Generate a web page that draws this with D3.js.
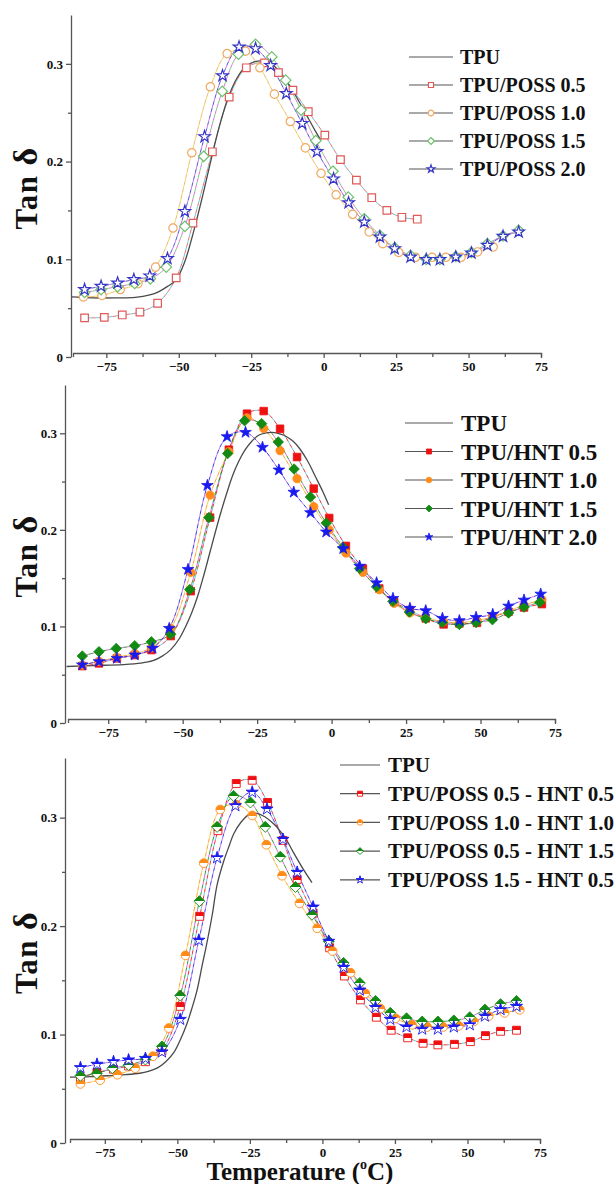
<!DOCTYPE html>
<html><head><meta charset="utf-8">
<script src="https://cdn.jsdelivr.net/npm/d3@7"></script>
<style>
body{margin:0;background:#fff}
svg{display:block}
text{font-family:"Liberation Serif","Times New Roman",serif;font-weight:bold;fill:#111}
</style>
</head><body>
<svg id="c" width="616" height="1184"></svg>
<script>
// ---------- DATA ----------
const xTicks = [-75, -50, -25, 0, 25, 50, 75];
const xMinorTicks = [-62.5, -37.5, -12.5, 12.5, 37.5, 62.5];
const yTicks = [0, 0.1, 0.2, 0.3];
const yMinorTicks = [0.05, 0.15, 0.25];
const yTitle = "Tan";
const yTitleGreek = "δ";
const xTitleMain = "Temperature (";
const xTitleSup = "o";
const xTitleEnd = "C)";

const p1Labels = ["TPU", "TPU/POSS 0.5", "TPU/POSS 1.0", "TPU/POSS 1.5", "TPU/POSS 2.0"];
const p2Labels = ["TPU", "TPU/HNT 0.5", "TPU/HNT 1.0", "TPU/HNT 1.5", "TPU/HNT 2.0"];
const p3Labels = ["TPU", "TPU/POSS 0.5 - HNT 0.5", "TPU/POSS 1.0 - HNT 1.0", "TPU/POSS 0.5 - HNT 1.5", "TPU/POSS 1.5 - HNT 0.5"];

// Panel 1 (POSS)
const p1TPU = [[-87,0.0615],[-80,0.0605],[-72,0.0605],[-65,0.061],[-60,0.0635],[-57,0.0667],[-54,0.072],[-51,0.0786],[-48,0.097],[-45,0.127],[-42,0.162],[-39,0.2],[-36,0.236],[-33,0.265],[-30,0.285],[-27,0.297],[-24,0.302],[-21,0.303],[-18,0.3],[-15,0.291],[-12,0.279],[-9,0.264],[-6,0.248],[-3,0.232],[-1,0.222]];
const p1P05 = [[-82.5,0.040],[-75.7,0.0405],[-69.5,0.043],[-63.4,0.046],[-57.3,0.055],[-50.9,0.081],[-45.1,0.137],[-38.4,0.21],[-32.6,0.266],[-26.7,0.296],[-20.4,0.301],[-15.6,0.291],[-10.6,0.273],[-5.3,0.251],[0.4,0.227],[5.8,0.202],[11.3,0.181],[16.6,0.163],[21.8,0.150],[27.0,0.143],[32.3,0.141]];
const p1P10 = [[-82.9,0.0615],[-76.5,0.063],[-70.2,0.069],[-64.1,0.075],[-58.0,0.092],[-52.0,0.132],[-45.5,0.209],[-39.1,0.2765],[-33.3,0.3105],[-27.0,0.313],[-22.0,0.296],[-17.0,0.269],[-11.5,0.241],[-6.3,0.214],[-0.9,0.188],[4.3,0.166],[10.0,0.146],[15.7,0.128],[20.4,0.116],[25.9,0.107],[31.7,0.102],[37.4,0.102],[42.2,0.102],[47.4,0.102],[53.1,0.1075],[58.5,0.1126]];
const p1P15 = [[-82.5,0.066],[-76.8,0.069],[-71.1,0.072],[-65.2,0.0752],[-59.8,0.080],[-54.3,0.092],[-47.9,0.1337],[-41.4,0.2054],[-35.0,0.2718],[-29.4,0.3099],[-23.5,0.320],[-17.9,0.3071],[-13.1,0.2833],[-7.8,0.2527],[-2.7,0.2214],[3.2,0.1901],[8.5,0.1636],[14.0,0.1415],[19.4,0.1245],[24.5,0.112],[30.0,0.104],[35.4,0.100],[40.1,0.100],[45.6,0.103],[51.0,0.107],[56.5,0.116],[61.9,0.124],[67.3,0.1296]];
const p1P20 = [[-82.5,0.069],[-76.8,0.0724],[-71.1,0.0758],[-65.5,0.0793],[-60.0,0.083],[-53.9,0.1007],[-47.9,0.149],[-41.1,0.2255],[-34.9,0.2878],[-29.2,0.3173],[-23.5,0.3156],[-18.3,0.2983],[-12.9,0.2697],[-7.4,0.2391],[-2.3,0.2102],[3.4,0.1823],[8.6,0.1579],[14.0,0.1381],[19.4,0.1228],[24.5,0.1109],[30.0,0.1024],[35.4,0.0997],[40.1,0.0997],[45.6,0.1024],[51.0,0.1064],[56.5,0.1143],[61.9,0.1235],[67.3,0.1279]];

// Panel 2 (HNT)
const p2TPU = [[-89,0.0585],[-80,0.0595],[-70,0.0605],[-64,0.062],[-60,0.0645],[-57,0.069],[-54,0.076],[-51,0.088],[-49,0.10],[-47,0.114],[-45,0.131],[-43,0.152],[-41,0.175],[-39,0.198],[-37,0.22],[-35,0.24],[-33,0.258],[-31,0.272],[-29,0.283],[-27,0.291],[-24.5,0.298],[-22,0.3005],[-20,0.301],[-18,0.300],[-16,0.298],[-13,0.292],[-10.7,0.284],[-8,0.271],[-5.4,0.255],[-3,0.24],[-1,0.226]];
const p2H05 = [[-83.7,0.0589],[-78.1,0.0617],[-72.1,0.0669],[-66.1,0.0703],[-60.5,0.0755],[-54.0,0.090],[-47.3,0.1365],[-40.8,0.2127],[-34.5,0.283],[-28.4,0.3203],[-22.8,0.323],[-17.3,0.3047],[-11.6,0.2754],[-6.0,0.2427],[-0.8,0.2123],[4.8,0.1834],[10.5,0.160],[16.0,0.1393],[21.0,0.1254],[26.3,0.1169],[31.6,0.1083],[37.6,0.1021],[42.9,0.1031],[48.8,0.1037],[54.1,0.1099],[59.4,0.1151],[64.6,0.1196],[70.6,0.1231]];
const p2H10 = [[-83.7,0.060],[-78.1,0.064],[-72.1,0.068],[-66.1,0.072],[-60.5,0.078],[-54.0,0.098],[-47.3,0.156],[-40.8,0.236],[-34.5,0.281],[-28.4,0.316],[-22.8,0.305],[-17.3,0.282],[-11.6,0.253],[-6.0,0.224],[-0.8,0.200],[4.8,0.176],[10.5,0.156],[16.0,0.138],[21.0,0.124],[26.3,0.114],[31.6,0.109],[37.6,0.105],[42.9,0.104],[48.8,0.106],[54.1,0.110],[59.4,0.116],[64.6,0.122],[70.6,0.128]];
const p2H15 = [[-83.7,0.0693],[-78.1,0.0738],[-72.3,0.0772],[-66.1,0.080],[-60.5,0.0841],[-54.0,0.092],[-47.6,0.1382],[-41.2,0.2127],[-34.9,0.279],[-29.2,0.313],[-23.5,0.310],[-17.9,0.291],[-12.6,0.263],[-7.1,0.234],[-1.8,0.207],[3.8,0.182],[9.4,0.160],[15.1,0.141],[20.6,0.126],[26.1,0.115],[31.6,0.108],[37.2,0.104],[42.9,0.102],[48.5,0.104],[54.0,0.107],[59.4,0.114],[64.6,0.120],[69.9,0.125]];
const p2H20 = [[-83.7,0.0602],[-78.1,0.0636],[-72.1,0.067],[-66.1,0.0705],[-60.1,0.0774],[-54.5,0.098],[-48.2,0.159],[-41.7,0.246],[-35.1,0.2965],[-28.9,0.301],[-23.2,0.2855],[-17.7,0.262],[-12.7,0.239],[-7.1,0.2178],[-1.8,0.1978],[3.9,0.1806],[9.4,0.1624],[15.1,0.1452],[20.6,0.129],[26.3,0.1187],[31.6,0.1163],[37.2,0.1084],[42.9,0.106],[48.5,0.1094],[54.1,0.1125],[59.4,0.1211],[64.6,0.1273],[70.2,0.1335]];

// Panel 3 (POSS-HNT)
const p3TPU = [[-87,0.0607],[-80,0.0612],[-74,0.062],[-68,0.063],[-63,0.0643],[-60,0.066],[-57,0.069],[-54,0.075],[-51.3,0.083],[-49,0.095],[-46.7,0.11],[-45,0.124],[-43.2,0.141],[-41.5,0.163],[-40,0.182],[-38,0.21],[-36.3,0.238],[-34,0.26],[-32,0.275],[-30.6,0.285],[-28,0.296],[-25,0.3035],[-22.5,0.304],[-20,0.301],[-17.5,0.296],[-15.6,0.291],[-12.5,0.28],[-9.9,0.2675],[-6.5,0.252],[-3.6,0.24]];
const p3A = [[-83.4,0.060],[-77.7,0.065],[-72.0,0.068],[-66.8,0.071],[-61.0,0.075],[-55.3,0.085],[-49.0,0.126],[-42.3,0.209],[-36.0,0.288],[-29.7,0.3315],[-24.2,0.3345],[-18.9,0.314],[-13.6,0.279],[-8.7,0.243],[-3.2,0.212],[2.5,0.180],[7.6,0.154],[13.1,0.132],[18.6,0.116],[23.7,0.104],[29.4,0.097],[34.7,0.092],[39.8,0.0905],[45.5,0.091],[51.0,0.0935],[56.2,0.099],[61.4,0.103],[66.9,0.104]];
const p3B = [[-83.4,0.0545],[-76.6,0.058],[-70.6,0.063],[-64.5,0.069],[-58.4,0.080],[-53.0,0.106],[-47.2,0.173],[-40.9,0.258],[-35.2,0.3075],[-29.7,0.312],[-24.2,0.302],[-19.3,0.275],[-13.9,0.2465],[-7.9,0.221],[-1.8,0.198],[3.5,0.177],[9.7,0.157],[14.8,0.138],[20.0,0.124],[25.2,0.115],[30.9,0.109],[36.1,0.107],[41.6,0.107],[47.0,0.108],[52.2,0.112],[57.3,0.117],[62.8,0.120],[68.0,0.1228]];
const p3C = [[-83.4,0.062],[-77.8,0.064],[-72.4,0.069],[-66.8,0.072],[-61.0,0.077],[-55.3,0.089],[-49.0,0.136],[-42.4,0.223],[-36.3,0.2915],[-30.6,0.320],[-24.8,0.314],[-19.7,0.2915],[-14.5,0.264],[-9.3,0.236],[-3.6,0.2105],[2.2,0.186],[7.3,0.166],[12.9,0.1475],[18.3,0.131],[23.4,0.120],[29.0,0.115],[34.4,0.112],[39.8,0.112],[45.3,0.113],[50.8,0.116],[56.0,0.123],[61.4,0.128],[66.9,0.131]];
const p3D = [[-83.4,0.0695],[-77.7,0.0726],[-72.0,0.075],[-66.8,0.0766],[-61.0,0.078],[-55.3,0.084],[-49.0,0.114],[-42.6,0.187],[-36.3,0.263],[-30.0,0.311],[-24.2,0.3235],[-19.1,0.308],[-13.6,0.280],[-8.7,0.2496],[-3.2,0.2176],[2.2,0.186],[7.3,0.162],[12.9,0.141],[18.3,0.125],[23.4,0.114],[29.0,0.107],[34.4,0.105],[39.8,0.105],[45.3,0.107],[50.8,0.109],[56.0,0.117],[61.4,0.123],[66.9,0.126]];

// ---------- STYLE / LAYOUT ----------
const shapes = ["square", "circle", "diamond", "star"];
const openColors = ["#e05a5a", "#f0a860", "#6cc06c", "#3535c8"];
const fillColors = ["#ee1111", "#ff8c1a", "#138a13", "#1a1aee"];
const dashColors = ["#40c8e0", "#e8d840", "#e050e0", "#c060e0"];

const panels = [
  {labels: p1Labels, tpu: p1TPU, series: [p1P05, p1P10, p1P15, p1P20], mode: "open", colors: openColors, mk: 1.05,
   xDomain: [-86.5, 75], xRange: [73, 541], yDomain: [0, 0.35], yRange: [357, 15], yAxisX: 71,
   leg: {x0: 409, x1: 453, tx: 460, y0: 57, dy: 28, fs: 20}, xTitle: false},
  {labels: p2Labels, tpu: p2TPU, series: [p2H05, p2H10, p2H15, p2H20], mode: "solid", colors: fillColors, mk: 1.05,
   xDomain: [-88.5, 75], xRange: [68, 555], yDomain: [0, 0.35], yRange: [723, 385], yAxisX: 65,
   leg: {x0: 405, x1: 453, tx: 461, y0: 423, dy: 28.5, fs: 23}, xTitle: false},
  {labels: p3Labels, tpu: p3TPU, series: [p3A, p3B, p3C, p3D], mode: "half", colors: fillColors, mk: 1.1,
   xDomain: [-87, 75], xRange: [70, 540], yDomain: [0, 0.355], yRange: [1143, 758], yAxisX: 65,
   leg: {x0: 340, x1: 380, tx: 388, y0: 765, dy: 28.7, fs: 21}, xTitle: true}
];

const svg = d3.select("#c");
svg.append("rect").attr("width", 616).attr("height", 1184).attr("fill", "#fff");
const defs = svg.append("defs");
fillColors.forEach((c, i) => {
  const g = defs.append("linearGradient").attr("id", "half" + i)
    .attr("x1", 0).attr("y1", 0).attr("x2", 0).attr("y2", 1);
  g.append("stop").attr("offset", "0%").attr("stop-color", c);
  g.append("stop").attr("offset", "52%").attr("stop-color", c);
  g.append("stop").attr("offset", "52%").attr("stop-color", "#fff");
  g.append("stop").attr("offset", "100%").attr("stop-color", "#fff");
});

function markerPath(shape, k) {
  if (shape === "diamond") { const r = 5 * k; return `M0,${-r}L${r},0L0,${r}L${-r},0Z`; }
  if (shape === "square") return d3.symbol(d3.symbolSquare, 52 * k * k)();
  if (shape === "circle") return d3.symbol(d3.symbolCircle, 50 * k * k)();
  return d3.symbol(d3.symbolStar, 38 * k * k)();
}
function styleMarker(sel, p, i) {
  const c = p.colors[i];
  if (p.mode === "open") sel.attr("fill", "#fff").attr("stroke", c).attr("stroke-width", 1.2);
  else if (p.mode === "solid") sel.attr("fill", c).attr("stroke", c).attr("stroke-width", 0.8);
  else sel.attr("fill", `url(#half${i})`).attr("stroke", c).attr("stroke-width", 0.9);
}

panels.forEach((p, pi) => {
  const g = svg.append("g");
  const x = d3.scaleLinear().domain(p.xDomain).range(p.xRange);
  const y = d3.scaleLinear().domain(p.yDomain).range(p.yRange);
  const xAxisY = y(0) - 4;

  // axes
  g.append("g").attr("transform", `translate(${p.yAxisX},0)`)
    .call(d3.axisLeft(y).tickValues(yTicks).tickSize(5).tickSizeOuter(0).tickPadding(3)
      .tickFormat(d => d === 0 ? "0" : d3.format(".1f")(d)));
  g.append("g").attr("transform", `translate(${p.yAxisX},0)`)
    .call(d3.axisLeft(y).tickValues(yMinorTicks).tickSize(3).tickFormat(""))
    .call(s => s.select(".domain").remove());
  g.append("g").attr("transform", `translate(0,${xAxisY})`)
    .call(d3.axisBottom(x).tickValues(xTicks).tickSize(5).tickSizeOuter(4).tickPadding(4));
  g.append("g").attr("transform", `translate(0,${xAxisY})`)
    .call(d3.axisBottom(x).tickValues(xMinorTicks).tickSize(4).tickFormat(""))
    .call(s => s.select(".domain").remove());
  g.selectAll(".domain, .tick line").attr("stroke", "#555").attr("stroke-width", 1.3);
  g.selectAll(".tick text").attr("font-family", "Liberation Serif").attr("font-weight", "bold")
    .attr("font-size", 13).attr("fill", "#111");

  // y title
  const cy = (p.yRange[0] + p.yRange[1]) / 2 + 2;
  const yt = g.append("text").attr("transform", `translate(37,${cy}) rotate(-90)`)
    .attr("text-anchor", "middle").attr("font-size", 31).attr("letter-spacing", 1.5);
  yt.append("tspan").text(yTitle);
  yt.append("tspan").attr("dx", 9).attr("font-size", 34).text(yTitleGreek);

  if (p.xTitle) {
    const xt = g.append("text").attr("x", 300).attr("y", 1180).attr("text-anchor", "middle")
      .attr("font-size", 25);
    xt.append("tspan").text(xTitleMain);
    xt.append("tspan").attr("font-size", 14).attr("dy", -11).text(xTitleSup);
    xt.append("tspan").attr("dy", 11).text(xTitleEnd);
  }

  const line = d3.line().x(d => x(d[0])).y(d => y(d[1])).curve(d3.curveCatmullRom);
  // series connecting lines (dashed, two colour)
  p.series.forEach((s, i) => {
    g.append("path").attr("d", line(s)).attr("fill", "none").attr("stroke", p.colors[i])
      .attr("stroke-width", 1).attr("stroke-dasharray", "4 3").attr("opacity", 0.85);
    g.append("path").attr("d", line(s)).attr("fill", "none").attr("stroke", dashColors[i])
      .attr("stroke-width", 1).attr("stroke-dasharray", "3 4").attr("stroke-dashoffset", -4).attr("opacity", 0.85);
  });
  // TPU line
  g.append("path").attr("d", line(p.tpu)).attr("fill", "none").attr("stroke", "#4a4a4a")
    .attr("stroke-width", 1.3);
  // markers
  p.series.forEach((s, i) => {
    g.append("g").selectAll("path").data(s).join("path")
      .attr("transform", d => `translate(${x(d[0])},${y(d[1])})`)
      .attr("d", markerPath(shapes[i], p.mk))
      .call(sel => styleMarker(sel, p, i));
  });

  // legend
  const L = p.leg;
  p.labels.forEach((lab, i) => {
    const ly = L.y0 + i * L.dy;
    g.append("line").attr("x1", L.x0).attr("x2", L.x1).attr("y1", ly).attr("y2", ly)
      .attr("stroke", "#555").attr("stroke-width", 1.2);
    if (i > 0) {
      g.append("path").attr("transform", `translate(${(L.x0 + L.x1) / 2},${ly})`)
        .attr("d", markerPath(shapes[i - 1], 0.7)).call(sel => styleMarker(sel, p, i - 1));
    }
    g.append("text").attr("x", L.tx).attr("y", ly).attr("dy", "0.35em")
      .attr("font-size", L.fs).text(lab);
  });
});
</script>
</body></html>
